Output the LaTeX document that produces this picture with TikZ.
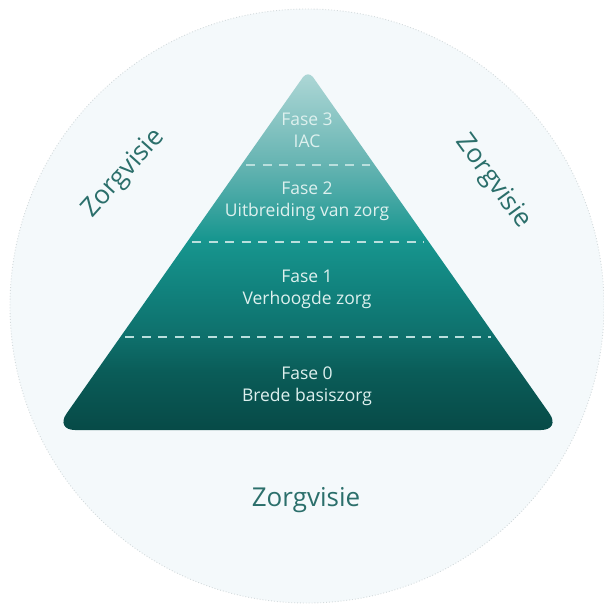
\documentclass[tikz,border=0pt]{standalone}
\usepackage{fontspec}
\setmainfont{Open Sans}
\usetikzlibrary{calc}
\definecolor{circfill}{HTML}{F4F9FB}
\definecolor{circline}{HTML}{D3DADC}
\definecolor{visiecol}{HTML}{2B6F6B}
\definecolor{fasecol}{HTML}{DDF0EE}
\definecolor{dashcol}{HTML}{B9DFDD}
\definecolor{pbot}{HTML}{074A47}
\definecolor{plow}{HTML}{0A5C58}
\definecolor{pmidlow}{HTML}{0E6E6A}
\definecolor{pmid}{HTML}{11827D}
\definecolor{pbright}{HTML}{17968F}
\definecolor{pup}{HTML}{4AA9A6}
\definecolor{pupper}{HTML}{66B4B2}
\definecolor{ptop}{HTML}{B0D8D7}
\pgfdeclareverticalshading{pyramidshade}{100bp}{color(0bp)=(pbot); color(25bp)=(pbot);
  color(33bp)=(plow); color(37.5bp)=(pmidlow); color(44.5bp)=(pmid); color(51.5bp)=(pbright);
  color(58bp)=(pup); color(62bp)=(pupper); color(75bp)=(ptop); color(100bp)=(ptop)}
\tikzset{
  fasetext/.style={text=fasecol, align=center, font=\fontsize{17.5}{22}\selectfont},
  visie/.style={text=visiecol, font=\fontsize{26}{30}\selectfont},
  fasedash/.style={draw=dashcol, line width=2.4pt, dash pattern=on 9pt off 7.5pt}
}
\begin{document}
\begin{tikzpicture}[x=1pt,y=-1pt]
 \useasboundingbox (0,0) rectangle (603,607);
 \draw[fill=circfill, draw=circline, dotted, line width=0.9pt] (307,306) circle[radius=297];
 % pyramid
 \coordinate (top) at (308,70);
 \coordinate (bl) at (55,430);
 \coordinate (br) at (561,430);
 \shade[shading=pyramidshade] ($(bl)!0.5!(br)$) [rounded corners=20pt] -- (br) [rounded corners=9pt] -- (top) [rounded corners=20pt] -- (bl) -- cycle;
 \foreach \f in {0.264,0.478,0.742}
   \draw[fasedash] ($(top)!\f!(bl)+(5,0)$) -- ($(top)!\f!(br)-(5,0)$);
 \node[fasetext] (fase3) at (307,130) {Fase 3\\IAC};
 \node[fasetext] (fase2) at (307,201) {Fase 2\\Uitbreiding van zorg};
 \node[fasetext] (fase1) at (307,289) {Fase 1\\Verhoogde zorg};
 \node[fasetext] (fase0) at (307,386) {Fase 0\\Brede basiszorg};
 % zorgvisie
 \node[visie, rotate=48] (visieleft) at (124,174) {Zorgvisie};
 \node[visie, rotate=-54] (visieright) at (493,182) {Zorgvisie};
 \node[visie] (visiebottom) at (306,500) {Zorgvisie};
\end{tikzpicture}
\end{document}
